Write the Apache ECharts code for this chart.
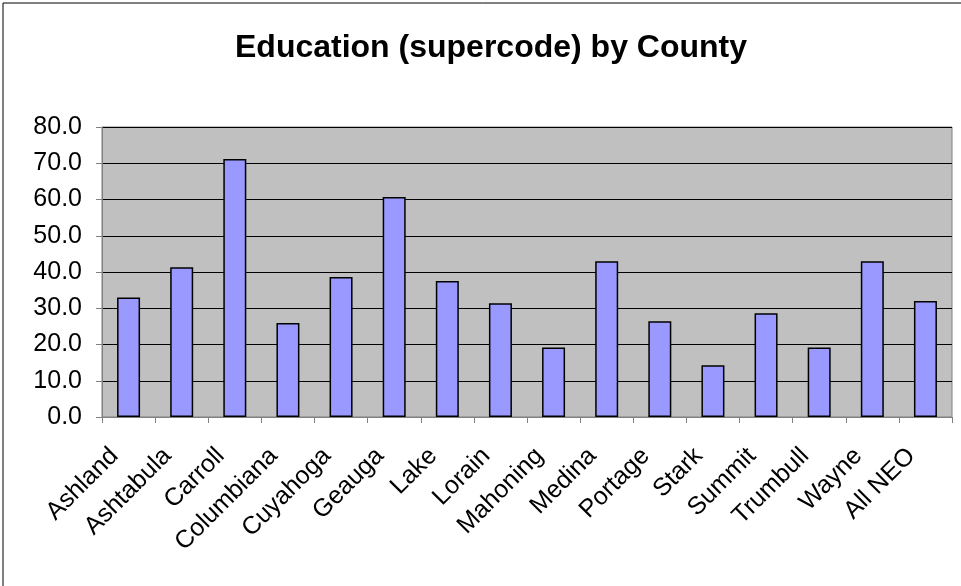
<!DOCTYPE html>
<html>
<head>
<meta charset="utf-8">
<script src="https://cdn.jsdelivr.net/npm/echarts@6/dist/echarts.min.js"></script>
<style>
html,body{margin:0;padding:0;background:#fff;}
#chart{width:961px;height:586px;}
</style>
</head>
<body>
<div id="chart"></div>
<script>
const titleText = 'Education (supercode) by County';
const categories = ['Ashland','Ashtabula','Carroll','Columbiana','Cuyahoga','Geauga','Lake','Lorain','Mahoning','Medina','Portage','Stark','Summit','Trumbull','Wayne','All NEO'];
const values = [33.0, 41.3, 71.2, 25.9, 38.6, 60.7, 37.5, 31.4, 19.2, 43.0, 26.4, 14.3, 28.6, 19.2, 43.0, 32.0];
const yMin = 0, yMax = 80, yStep = 10;

const chart = echarts.init(document.getElementById('chart'), null, {renderer:'canvas'});
chart.setOption({
  animation: false,
  backgroundColor: '#ffffff',
  title: {
    text: titleText,
    left: 486, top: 27, textAlign: 'center',
    textStyle: {fontFamily: 'Liberation Sans, Arial, sans-serif', fontWeight: 'bold', fontSize: 32, color: '#000'}
  },
  graphic: [{
    type: 'rect', shape: {x: 3, y: 3, width: 980, height: 600},
    style: {fill: 'none', stroke: '#000', lineWidth: 1}, silent: true, z: 100
  }],
  grid: {left: 102, right: 9, top: 127, bottom: 169, containLabel: false,
    show: true, backgroundColor: '#c0c0c0', borderColor: '#808080', borderWidth: 1},
  xAxis: {
    type: 'category', data: categories,
    axisLine: {show: true, lineStyle: {color: '#808080', width: 1}},
    axisTick: {show: true, alignWithLabel: false, length: 6, lineStyle: {color: '#808080'}},
    axisLabel: {rotate: 45, interval: 0, margin: 21, padding: [0, 20, 0, 0], color: '#000', fontSize: 25, fontFamily: 'Liberation Sans, Arial, sans-serif'},
    splitLine: {show: false}
  },
  yAxis: {
    type: 'value', min: yMin, max: yMax, interval: yStep,
    axisLine: {show: true, lineStyle: {color: '#808080', width: 1}},
    axisTick: {show: true, inside: false, length: 6, lineStyle: {color: '#808080'}},
    axisLabel: {formatter: v => v.toFixed(1), margin: 20, color: '#000', fontSize: 25, fontFamily: 'Liberation Sans, Arial, sans-serif'},
    splitLine: {show: true, lineStyle: {color: '#000', width: 1}}
  },
  series: [{
    type: 'bar', data: values, barWidth: 23,
    itemStyle: {color: '#9999ff', borderColor: '#000', borderWidth: 1.5}
  }]
});
</script>
</body>
</html>
